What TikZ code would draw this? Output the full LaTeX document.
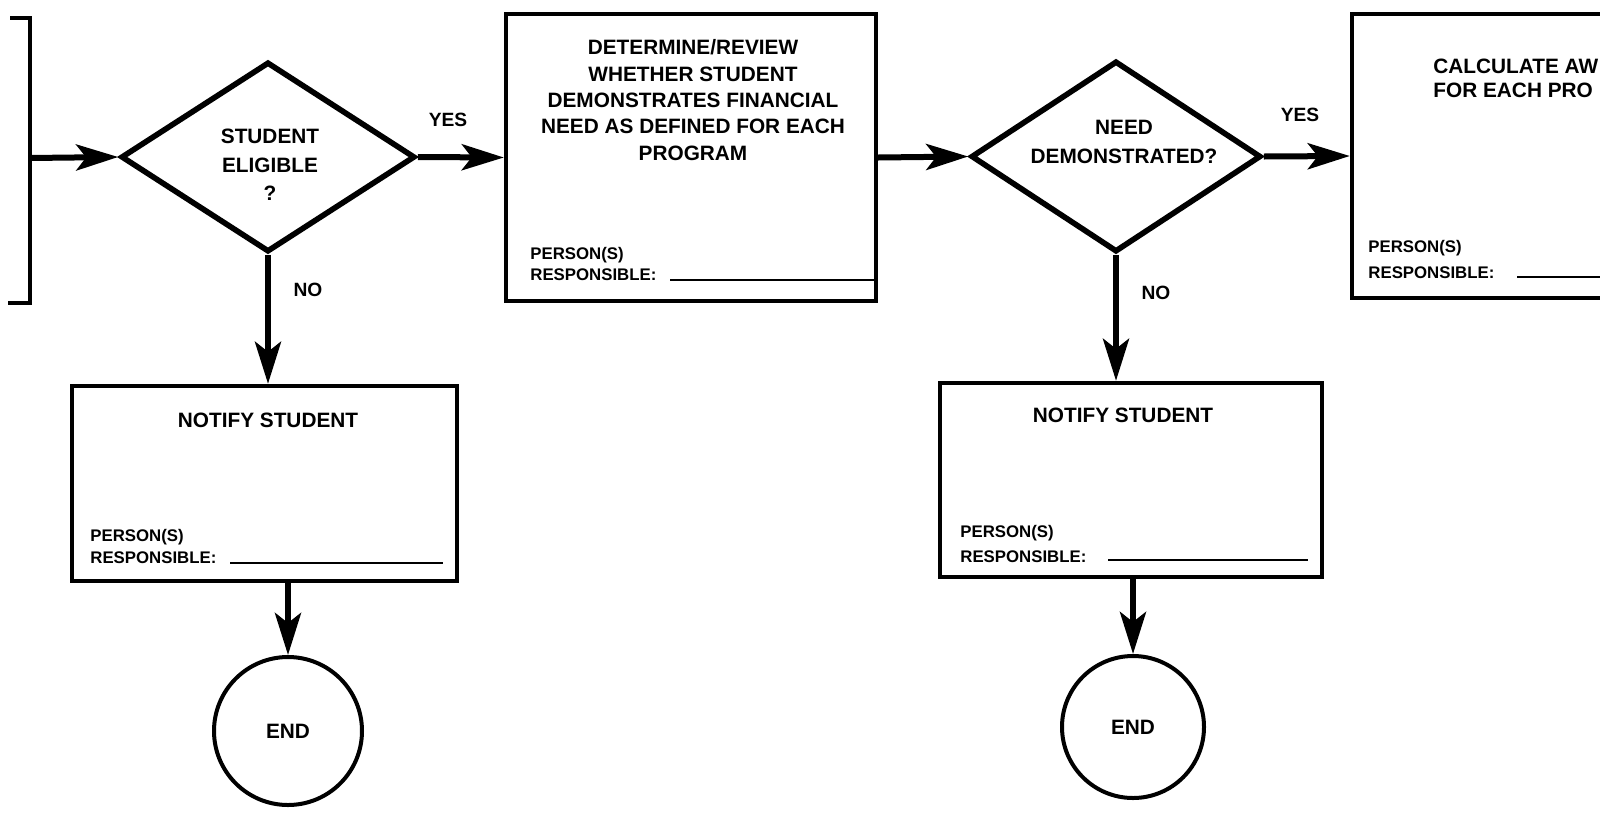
\documentclass[tikz,border=0pt]{standalone}
\usepackage{fontspec}
\setmainfont{Liberation Sans}
\usetikzlibrary{shapes.geometric,arrows.meta}

\begin{document}
\begin{tikzpicture}[x=0.5pt,y=-0.5pt,
  txt/.style={inner sep=0pt, align=center, font=\bfseries\fontsize{10.4}{13.2}\selectfont},
  lbl/.style={inner sep=0pt, font=\bfseries\fontsize{9.6}{12}\selectfont},
  small/.style={inner sep=0pt, anchor=west, font=\bfseries\fontsize{8.4}{10}\selectfont},
  decision/.style={diamond, draw, line width=2.8pt, inner sep=0pt},
  process/.style={rectangle, draw, line width=2.2pt, inner sep=0pt},
  terminal/.style={circle, draw, line width=2pt, inner sep=0pt, font=\bfseries\fontsize{10.4}{12}\selectfont},
  flow/.style={line width=3pt, -{Stealth[length=21pt,width=13pt,inset=5pt]}},
  bracketline/.style={line width=2.2pt},
  blank/.style={line width=1pt},
]
\useasboundingbox (0,0) rectangle (1600,814);
\clip (0,0) rectangle (1600,814);

% bracket closing the previous stage
\draw[bracketline] (10,18) -- (30,18) -- (30,303) -- (8,303);
\coordinate (in) at (30,158);

% eligibility decision
\node[decision, minimum width=147pt, minimum height=95pt] (d1) at (268,157) {};
\node[txt] (d1t) at (270,165) {STUDENT\\[1pt]ELIGIBLE\\[1pt]?};
\node[lbl] (y1) at (448,120) {YES};
\node[lbl] (no1) at (308,290) {NO};

% need review
\node[process, minimum width=185pt, minimum height=143.5pt] (b2) at (691,157.5) {};
\node[txt] (b2t) at (693,100) {DETERMINE/REVIEW\\WHETHER STUDENT\\DEMONSTRATES FINANCIAL\\NEED AS DEFINED FOR EACH\\PROGRAM};
\node[small] (b2p) at (530,255) {PERSON(S)};
\node[small] (b2r) at (530,275) {RESPONSIBLE:};
\draw[blank] (670,280) -- (875,280);

% need decision
\node[decision, minimum width=145pt, minimum height=95.5pt] (d2) at (1116,156.5) {};
\node[txt] (d2t) at (1124,142) {NEED\\[1.6pt]DEMONSTRATED?};
\node[lbl] (y2) at (1300,115) {YES};
\node[lbl] (no2) at (1156,293) {NO};

% award calculation
\node[process, minimum width=185pt, minimum height=142pt] (b3) at (1537,156) {};
\node[txt, align=left, anchor=west] (b3t) at (1433,78) {CALCULATE AW\\[-1.2pt]FOR EACH PRO};
\node[small] (b3p) at (1368,248) {PERSON(S)};
\node[small] (b3r) at (1368,273) {RESPONSIBLE:};
\draw[blank] (1517,277) -- (1600,277);

% ineligible branch
\node[process, minimum width=192.5pt, minimum height=97.5pt] (n1) at (264.5,483.5) {};
\node[txt] (n1t) at (268,420) {NOTIFY STUDENT};
\node[small] (n1p) at (90,537) {PERSON(S)};
\node[small] (n1r) at (90,558) {RESPONSIBLE:};
\draw[blank] (230,563) -- (443,563);
\node[terminal, minimum size=74pt] (e1) at (288,731) {END};

% no-need branch
\node[process, minimum width=191pt, minimum height=97pt] (n2) at (1131,480) {};
\node[txt] (n2t) at (1123,415) {NOTIFY STUDENT};
\node[small] (n2p) at (960,533) {PERSON(S)};
\node[small] (n2r) at (960,557) {RESPONSIBLE:};
\draw[blank] (1108,560) -- (1308,560);
\node[terminal, minimum size=71pt] (e2) at (1133,727) {END};

% connectors
\draw[flow] (in) -- (d1.west);
\draw[flow] (d1.east) -- (b2.west);
\draw[flow] (b2.east) -- (d2.west);
\draw[flow] (d2.east) -- (b3.west);
\draw[flow] (d1.south) -- (d1.south |- n1.north);
\draw[flow] (n1.south -| e1.north) -- (e1.north);
\draw[flow] (d2.south) -- (d2.south |- n2.north);
\draw[flow] (n2.south -| e2.north) -- (e2.north);
\end{tikzpicture}
\end{document}
